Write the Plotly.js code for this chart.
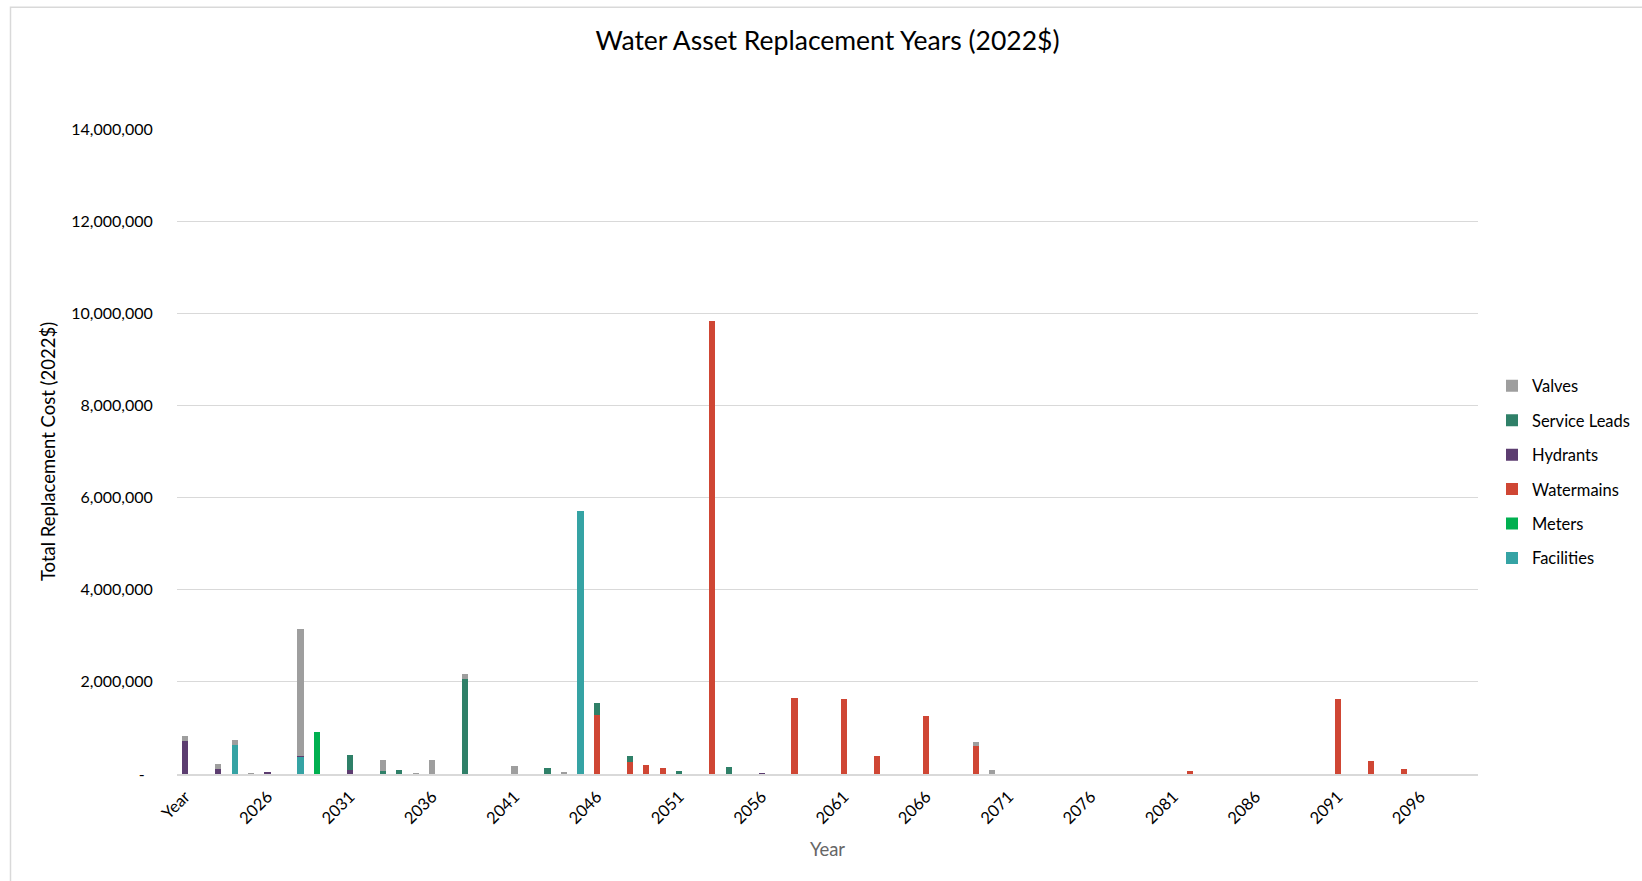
<!DOCTYPE html>
<html>
<head>
<meta charset="utf-8">
<script src="https://cdn.plot.ly/plotly-3.0.1.min.js"></script>
<style>
  html, body { margin: 0; padding: 0; background: #fff; }
  #chart { width: 1642px; height: 881px; }
</style>
</head>
<body>
<div id="chart"></div>
<script>
// Categories: "Year" followed by 2022..2099
const categories = ["Year"];
for (let y = 2022; y <= 2099; y++) categories.push(String(y));

// Tick labels shown on the x axis (every 5th category)
const xTickLabels = ["Year", "2026", "2031", "2036", "2041", "2046", "2051", "2056", "2061", "2066",
                     "2071", "2076", "2081", "2086", "2091", "2096"];

// Y ticks
const yTickValues = [0, 2000000, 4000000, 6000000, 8000000, 10000000, 12000000, 14000000];
const yTickLabels = ["-\u00a0\u00a0", "2,000,000", "4,000,000", "6,000,000", "8,000,000", "10,000,000", "12,000,000", "14,000,000"];

// Series (stacked bottom to top: Facilities, Meters, Watermains, Hydrants, Service Leads, Valves)
const facilitiesYears = ["2024", "2028", "2045"];
const facilitiesValues = [640000, 370000, 5710000];

const metersYears = ["2029"];
const metersValues = [910000];

const watermainsYears = ["2046", "2048", "2049", "2050", "2053", "2058", "2061", "2063", "2066", "2069", "2082", "2091", "2093", "2095"];
const watermainsValues = [1275000, 270000, 190000, 123000, 9830000, 1650000, 1620000, 390000, 1250000, 600000, 65000, 1630000, 276000, 100000];

const hydrantsYears = ["Year", "2023", "2026", "2028", "2031", "2056"];
const hydrantsValues = [727000, 116000, 44000, 30000, 95000, 30000];

const serviceLeadsYears = ["2031", "2033", "2034", "2038", "2043", "2046", "2048", "2051", "2054"];
const serviceLeadsValues = [320000, 60000, 80000, 2060000, 123000, 260000, 110000, 72000, 152000];

const valvesYears = ["Year", "2023", "2024", "2025", "2028", "2033", "2035", "2036", "2038", "2041", "2044", "2069", "2070"];
const valvesValues = [88000, 102000, 95000, 30000, 2756000, 240000, 30000, 305000, 120000, 170000, 50000, 100000, 80000];

const seriesNames = ["Facilities", "Meters", "Watermains", "Hydrants", "Service Leads", "Valves"];
const seriesColors = ["#35A3A4", "#00B050", "#CF4634", "#5C3D70", "#2F8068", "#9E9E9E"];
const seriesYears = [facilitiesYears, metersYears, watermainsYears, hydrantsYears, serviceLeadsYears, valvesYears];
const seriesValues = [facilitiesValues, metersValues, watermainsValues, hydrantsValues, serviceLeadsValues, valvesValues];

const FONT = "Lato, 'Open Sans', sans-serif";

const traces = seriesNames.map((name, i) => ({
  type: "bar",
  name: name,
  x: seriesYears[i],
  y: seriesValues[i],
  legendgroup: name,
  legendrank: seriesNames.length - i,
  marker: { color: seriesColors[i], line: { width: 0 } },
  hoverinfo: "x+y+name"
}));

// Plot area geometry (pixels)
const W = 1642, H = 881;
const L = 177, R = 1478, T = 129, B = 774;

const layout = {
  width: W,
  height: H,
  margin: { l: L, r: W - R, t: T, b: H - B, pad: 0, autoexpand: false },
  paper_bgcolor: "#ffffff",
  plot_bgcolor: "#ffffff",
  barmode: "stack",
  bargap: 0.62,
  font: { family: FONT, size: 16, color: "#000000" },
  title: {
    text: "Water Asset Replacement Years (2022$)",
    font: { family: FONT, size: 26.5, color: "#000000" },
    x: 0.5, xref: "paper", xanchor: "center",
    y: 1 - 41 / H, yref: "container", yanchor: "middle"
  },
  xaxis: {
    type: "category",
    categoryorder: "array",
    categoryarray: categories,
    range: [-0.5, categories.length - 0.5],
    tickmode: "array",
    tickvals: xTickLabels,
    ticktext: xTickLabels,
    tickangle: -45,
    ticks: "outside",
    ticklen: 5,
    tickcolor: "rgba(0,0,0,0)",
    tickfont: { family: FONT, size: 16.5, color: "#000000" },
    showgrid: false,
    showline: true,
    linecolor: "#d9d9d9",
    linewidth: 1.5,
    zeroline: false,
    title: { text: "Year", font: { family: FONT, size: 18.5, color: "#666666" }, standoff: 16 }
  },
  yaxis: {
    range: [0, 14000000],
    tickmode: "array",
    tickvals: yTickValues,
    ticktext: yTickLabels,
    tickfont: { family: FONT, size: 16, color: "#000000" },
    ticks: "outside",
    ticklen: 20,
    tickcolor: "rgba(0,0,0,0)",
    showgrid: true,
    gridcolor: "#d9d9d9",
    gridwidth: 1,
    zeroline: false,
    showline: false,
    title: { text: "Total Replacement Cost (2022$)", font: { family: FONT, size: 18.5, color: "#000000" }, standoff: 10 }
  },
  legend: {
    x: (1492 - L) / (R - L),
    xanchor: "left",
    y: (B - 472) / (B - T),
    yanchor: "middle",
    traceorder: "grouped",
    tracegroupgap: 10,
    font: { family: FONT, size: 16.5, color: "#000000" },
    bgcolor: "rgba(0,0,0,0)"
  },
  shapes: [{
    type: "rect",
    xref: "paper", yref: "paper",
    x0: (10.5 - L) / (R - L), x1: (1700 - L) / (R - L),
    y0: (B - 950) / (B - T), y1: (B - 7.3) / (B - T),
    line: { color: "#d9d9d9", width: 1.5 },
    fillcolor: "rgba(0,0,0,0)",
    layer: "below"
  }],
  showlegend: true
};

Plotly.newPlot("chart", traces, layout, { displayModeBar: false, staticPlot: true });
</script>
</body>
</html>
